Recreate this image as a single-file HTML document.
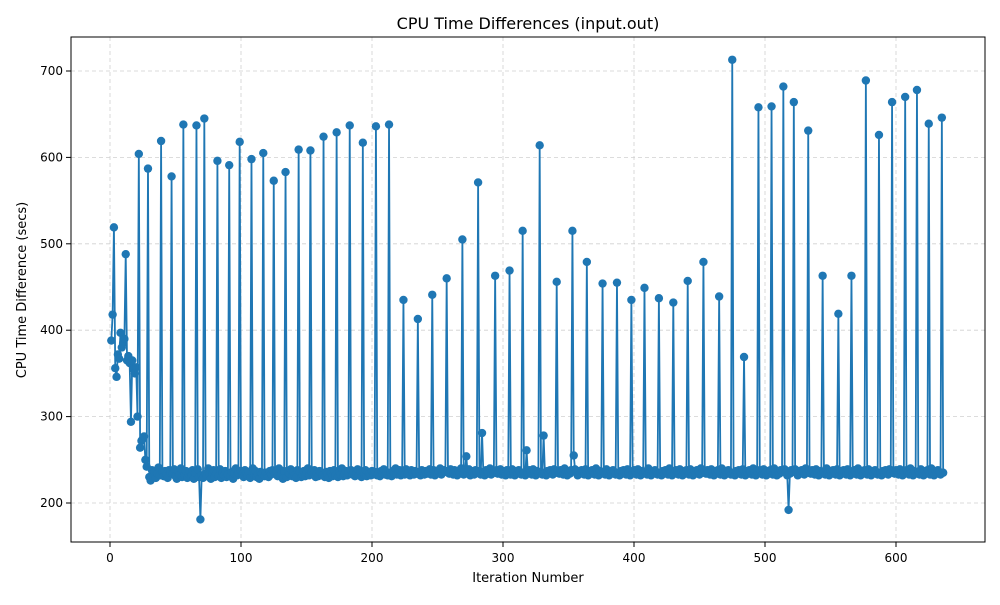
<!DOCTYPE html>
<html><head><meta charset="utf-8"><style>
body{margin:0;background:#fff}
svg{font-family:"DejaVu Sans","Liberation Sans",sans-serif}
</style></head><body>
<svg id="chart" width="1000" height="600" viewBox="0 0 1000 600">
<rect width="1000" height="600" fill="#fff"/>
<g id="grid"></g>
<g id="series"></g>
<rect x="71" y="37" width="914" height="505" fill="none" stroke="#000" stroke-width="1"/>
<g id="axes"></g>
<text x="528" y="29" text-anchor="middle" font-size="16">CPU Time Differences (input.out)</text>
<text x="528" y="582" text-anchor="middle" font-size="13">Iteration Number</text>
<text transform="translate(26,290) rotate(-90)" text-anchor="middle" font-size="13">CPU Time Difference (secs)</text>
</svg>
<script>
const xTicks=[0,100,200,300,400,500,600];
const yTicks=[200,300,400,500,600,700];
const baseline=[
233,236,231,238,229,235,240,232,228,237,234,230,239,233,236,231,227,235,238,232,
230,234,237,229,236,232,240,231,228,235,233,238,230,236,229,234,241,232,227,236,
231,237,233,229,238,235,230,234,239,231,228,236,233,240,230,235,232,237,229,234,
236,231,238,228,235,233,239,230,236,232,229,237,234,231,240,233,228,235,238,230,
234,236,231,239,229,235,232,237,230,233,238,231,236,228,234,240,232,235,229,237,
233,230,238,234,231,236,229,235,240,232,237,230,233,228,236,234,239,231,235,232,
230,237,233,238,229,234,236,231,240,232,235,228,237,233,230,236,234,239,231,235,
232,229,238,234,236,230,233,237,231,235,240,232,228,236,233,238,230,234,231,237,
235,232,239,230,236,233,229,237,234,231,238,232,235,230,236,233,240,231,234,237,
232,235,230,238,233,236,231,234,239,232,237,230,235,233,238,231,236,234,232,237,
233,236,238,232,235,231,237,234,239,233,236,232,238,235,231,237,234,240,233,236,
238,232,235,237,233,239,234,236,232,238,235,233,237,234,240,236,232,238,235,233,
237,234,236,239,233,235,238,232,236,234,237,240,233,235,238,236,232,237,234,239,
235,233,238,236,232,237,234,240,235,233,238,236,234,239,232,237,235,233,238,236,
234,237,233,239,235,232,238,236,234,240,233,237,235,232,238,234,236,239,233,237,
235,232,238,234,236,233,239,235,232,237,234,238,236,233,240,235,232,237,234,238,
236,233,239,235,232,237,234,238,236,233,240,235,232,237,234,238,236,233,239,235,
232,237,234,238,236,233,240,235,232,237,234,238,236,233,239,235,232,237,234,238,
236,233,239,235,232,237,234,238,236,233,240,235,232,237,234,238,236,233,239,235,
232,237,234,238,236,233,240,235,232,237,234,238,236,233,239,235,232,237,234,238,
236,233,239,235,232,237,234,238,236,233,240,235,232,237,234,238,236,233,239,235,
232,237,234,238,236,233,240,235,232,237,234,238,236,233,239,235,232,237,234,238,
236,233,239,235,232,237,234,238,236,233,240,235,232,237,234,238,236,233,239,235,
232,237,234,238,236,233,240,235,232,237,234,238,236,233,239,235,232,237,234,238,
236,233,239,235,232,237,234,238,236,233,240,235,232,237,234,238,236,233,239,235,
232,237,234,238,236,233,240,235,232,237,234,238,236,233,239,235,232,237,234,238,
236,233,239,235,232,237,234,238,236,233,240,235,232,237,234,238,236,233,239,235,
232,237,234,238,236,233,240,235,232,237,234,238,236,233,239,235,232,237,234,238,
236,233,239,235,232,237,234,238,236,233,240,235,232,237,234,238,236,233,239,235,
232,237,234,238,236,233,240,235,232,237,234,238,236,233,239,235,232,237,234,238,
236,233,239,235,232,237,234,238,236,233,240,235,232,237,234,238,236,233,239,235,
232,237,234,238,236,233,240,235,232,237,234,238,236,233,239,235,232,237,234,238];
const spikeIters=[1,2,3,4,5,6,7,8,9,10,11,12,13,14,15,16,17,18,19,20,21,22,23,24,25,26,27,28,29,30,31,
39,47,56,66,69,72,82,91,99,108,117,125,134,144,153,163,173,183,193,203,213,224,235,246,257,269,272,281,284,294,305,315,318,328,331,341,353,354,364,376,387,398,408,419,430,441,453,465,475,484,495,505,514,518,522,533,544,556,566,577,587,597,607,616,625,635];
const spikeVals=[388,418,519,356,346,372,367,397,380,385,390,488,365,370,362,294,365,355,350,357,300,604,264,272,274,277,250,242,587,230,226,
619,578,638,637,181,645,596,591,618,598,605,573,583,609,608,624,629,637,617,636,638,435,413,441,460,505,254,571,281,463,469,515,261,614,278,456,515,255,479,454,455,435,449,437,432,457,479,439,713,369,658,659,682,192,664,631,463,419,463,689,626,664,670,678,639,646];
const N=636;
const vals=[];
for(let i=0;i<N;i++)vals.push(baseline[i]);
for(let k=0;k<spikeIters.length;k++)vals[spikeIters[k]-1]=spikeVals[k];
const X=v=>110+(v)*1.31;
const Y=v=>503-(v-200)*0.864;
const NS='http://www.w3.org/2000/svg';
const grid=document.getElementById('grid'),axes=document.getElementById('axes'),ser=document.getElementById('series');
function mk(tag,attrs,parent){const e=document.createElementNS(NS,tag);for(const k in attrs)e.setAttribute(k,attrs[k]);parent.appendChild(e);return e;}
xTicks.forEach(t=>{const x=X(t);
 const g=mk('line',{x1:x,x2:x,y1:37,y2:542,stroke:'#d0d0d0','stroke-dasharray':'4,3','stroke-width':0.8},grid);
 
 
 const tk=mk('line',{x1:x,x2:x,y1:542,y2:547,stroke:'#000'},axes);
 
 
 const tx=mk('text',{x:x,y:562,'text-anchor':'middle','font-size':12},axes);tx.textContent=t;
 
 
});
yTicks.forEach(t=>{const y=Y(t);
 const g=mk('line',{x1:71,x2:985,y1:y,y2:y,stroke:'#d0d0d0','stroke-dasharray':'4,3','stroke-width':0.8},grid);
 
 
 const tk=mk('line',{x1:66,x2:71,y1:y,y2:y,stroke:'#000'},axes);
 
 
 const tx=mk('text',{x:63,y:y+4,'text-anchor':'end','font-size':12},axes);tx.textContent=t;
 
 
});
const pts=vals.map((v,i)=>X(i+1).toFixed(2)+','+Y(v).toFixed(2)).join(' ');
const pl=mk('polyline',{points:pts,fill:'none',stroke:'#1f77b4','stroke-width':1.8,'stroke-linejoin':'round'},ser);


vals.forEach((v,i)=>{const c=mk('circle',{cx:X(i+1),cy:Y(v),r:4.2,fill:'#1f77b4'},ser);
 
 
});
</script>
</body></html>
